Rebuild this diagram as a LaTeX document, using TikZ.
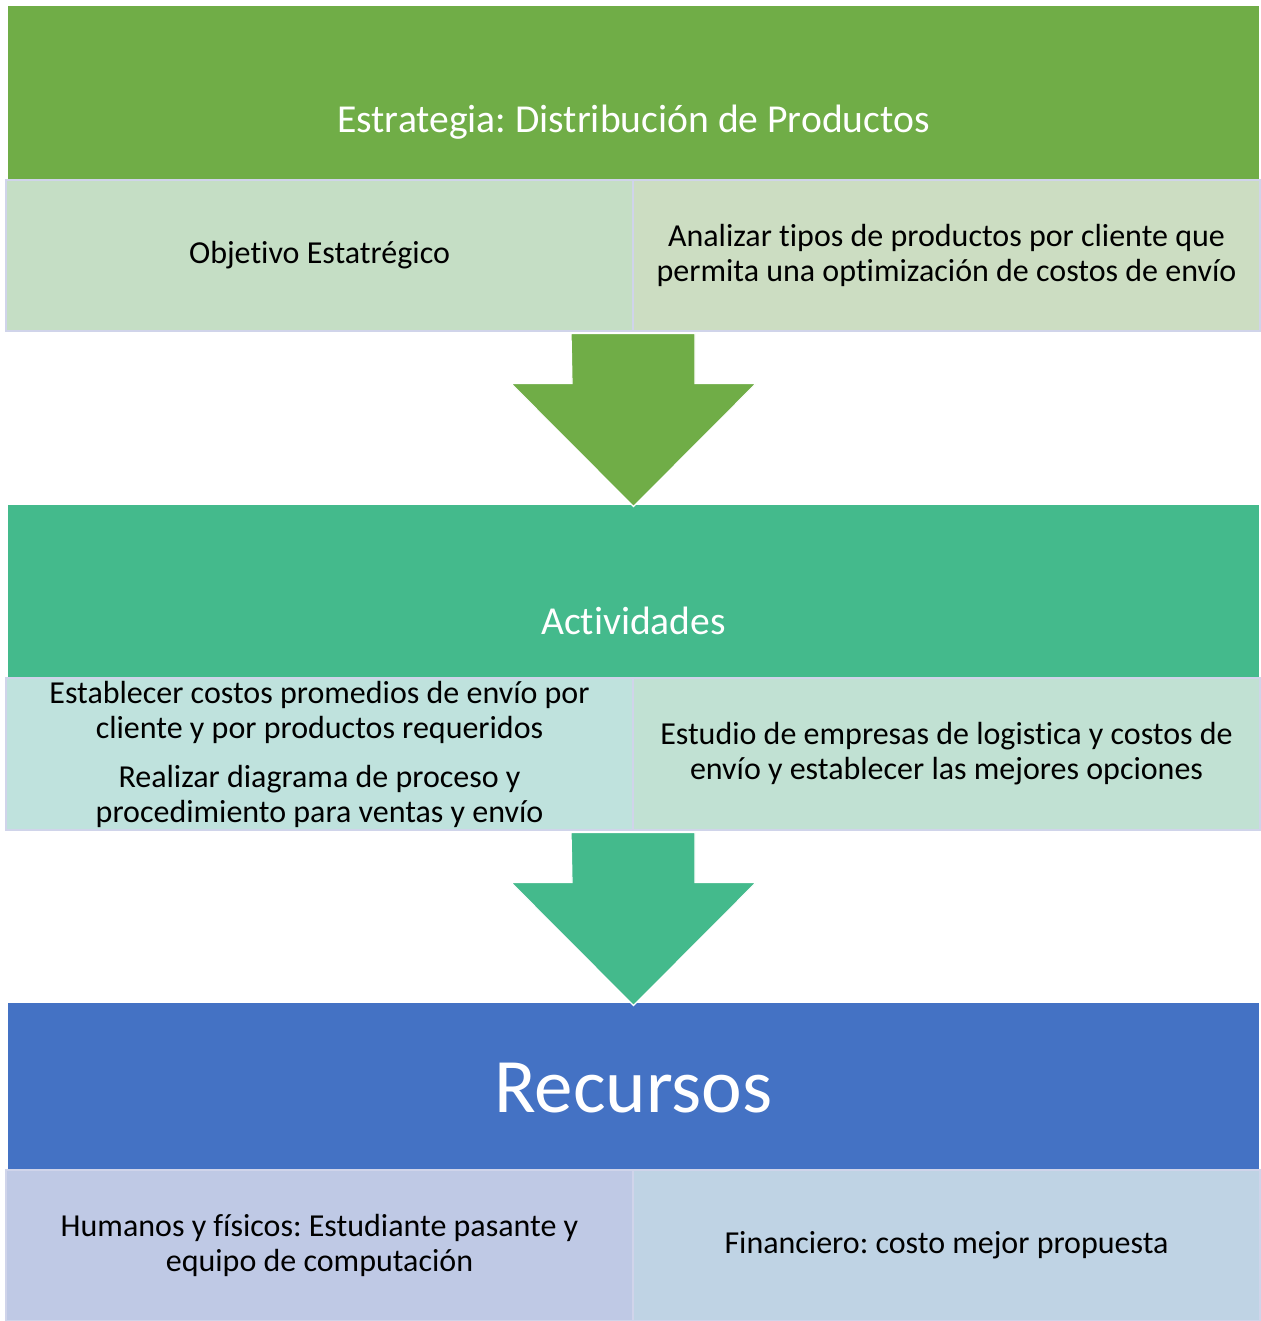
\documentclass[tikz,border=0pt]{standalone}
\usepackage{fontspec}
\setmainfont{Carlito}[Ligatures={NoCommon}]
\usetikzlibrary{positioning,calc}
\frenchspacing

\definecolor{verde}{RGB}{112,173,71}
\definecolor{turquesa}{RGB}{68,186,140}
\definecolor{azul}{RGB}{68,114,196}
\definecolor{borde}{RGB}{208,212,234}
\definecolor{celdaA}{RGB}{197,222,197}
\definecolor{celdaB}{RGB}{204,221,194}
\definecolor{celdaC}{RGB}{191,226,221}
\definecolor{celdaD}{RGB}{193,225,211}
\definecolor{celdaE}{RGB}{191,201,229}
\definecolor{celdaF}{RGB}{191,211,228}

\begin{document}
\begin{tikzpicture}[x=0.5pt,y=-0.5pt]
\tikzstyle{every node}+=[inner sep=0pt,align=center]
\tikzstyle{cabecera}=[minimum width=625.5pt,minimum height=87pt]
\tikzstyle{titulo}=[text=white,font=\fontsize{19.8}{23}\selectfont]
\tikzstyle{celda}=[draw=borde,line width=1pt,minimum width=313.5pt,minimum height=75.5pt,font=\fontsize{16}{17.5}\selectfont]
\tikzstyle{flecha}=[draw=white,line width=0.6pt]
\useasboundingbox (0,0) rectangle (1260,1321);

% estrategia
\node[cabecera,fill=verde] (estrategia) at (633.5,93) {};
\node[titulo] (estrategiaT) at (633.5,122) {Estrategia: Distribución de Productos};
\node[celda,fill=celdaA] (objetivo) at (319.5,255.5) {Objetivo Estatrégico};
\node[celda,fill=celdaB] (analizar) at (946.5,255.5) {Analizar tipos de productos por cliente que\\permita una optimización de costos de envío};

% actividades
\node[cabecera,fill=turquesa] (actividades) at (633.5,591.5) {};
\node[titulo] (actividadesT) at (633.5,621) {Actividades};
\node[celda,fill=celdaC,minimum height=76pt] (establecer) at (319.5,754) {Establecer costos promedios de envío por\\cliente y por productos requeridos\\[7pt]Realizar diagrama de proceso y\\procedimiento para ventas y envío};
\node[celda,fill=celdaD,minimum height=76pt] (estudio) at (946.5,754) {Estudio de empresas de logistica y costos de\\envío y establecer las mejores opciones};

% recursos
\node[cabecera,fill=azul,minimum height=83.5pt] (recursos) at (633.5,1086.5) {};
\node[titulo,font=\fontsize{38.5}{42}\selectfont] (recursosT) at (633.5,1088) {Recursos};
\node[celda,fill=celdaE] (humanos) at (319.5,1245) {Humanos y físicos: Estudiante pasante y\\equipo de computación};
\node[celda,fill=celdaF] (financiero) at (946.5,1245) {Financiero: costo mejor propuesta};

% flechas
\filldraw[flecha,fill=verde] ($(objetivo.south east)+(-63,1.5)$) -- ++(124,0) -- ++(0,50)
  -- ++(61,0) -- ++(-122.5,123) -- ++(-122.5,-123) -- ++(61,0) -- cycle;
\filldraw[flecha,fill=turquesa] ($(establecer.south east)+(-63,1.5)$) -- ++(124,0) -- ++(0,50)
  -- ++(61,0) -- ++(-122.5,123) -- ++(-122.5,-123) -- ++(61,0) -- cycle;
\end{tikzpicture}
\end{document}
